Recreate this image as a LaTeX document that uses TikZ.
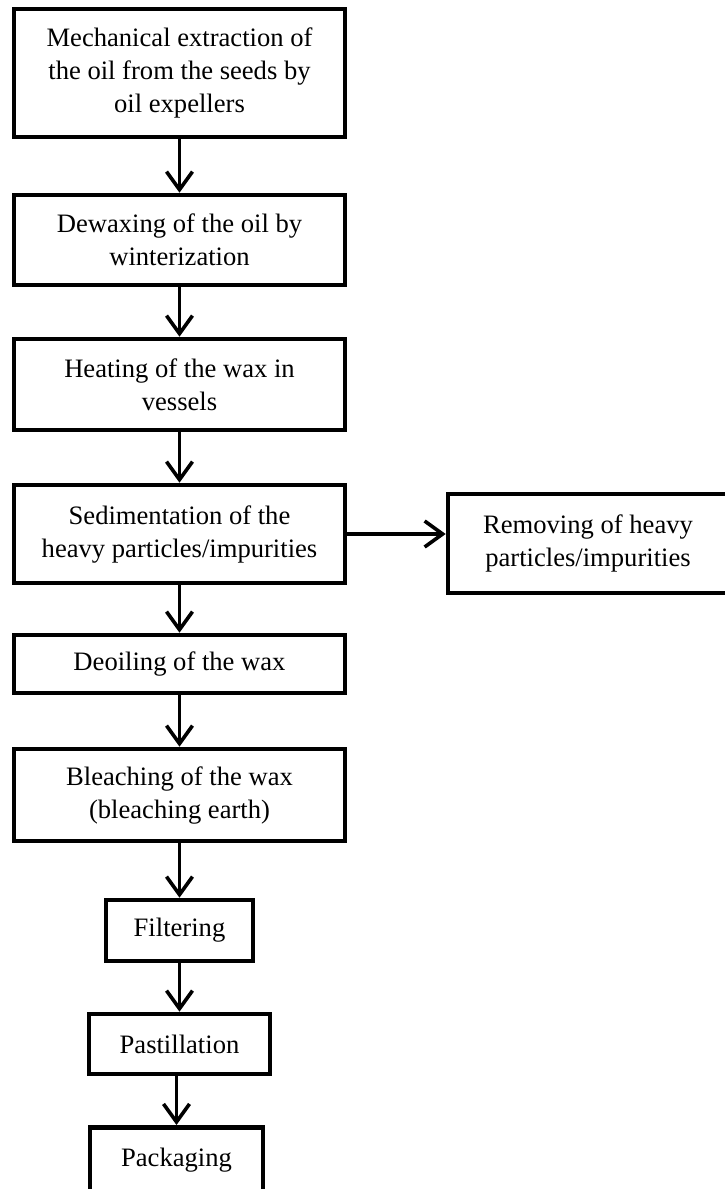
\documentclass[tikz,border=0pt]{standalone}
\usepackage{fontspec}
\setmainfont{Liberation Serif}
\usetikzlibrary{arrows.meta}

\tikzset{
  stepbox/.style={draw, line width=2.3pt, align=center, inner sep=2pt, font=\fontsize{13.3}{16.5}\selectfont},
  flowarrow/.style={line width=1.8pt, -{Straight Barb[length=9pt,width=13pt]}}
}

\begin{document}
\begin{tikzpicture}[x=0.5pt,y=-0.5pt]
        \useasboundingbox (0,0) rectangle (724,1189);
        \node[stepbox, minimum width=165.5pt, minimum height=64pt] (extract) at (179.5,73) {Mechanical extraction of\\the oil from the seeds by\\oil expellers};
        \node[stepbox, minimum width=165.5pt, minimum height=45pt] (dewax) at (179.5,240) {Dewaxing of the oil by\\winterization};
        \node[stepbox, minimum width=165.5pt, minimum height=45.5pt] (heat) at (179.5,384.5) {Heating of the wax in\\vessels};
        \node[stepbox, minimum width=165.5pt, minimum height=49pt] (sediment) at (179.5,534) {Sedimentation of the\\heavy particles/impurities};
        \node[stepbox, minimum width=140pt, minimum height=49.5pt] (remove) at (588,543.5) {Removing of heavy\\particles/impurities};
        \node[stepbox, minimum width=165.5pt, minimum height=29pt] (deoil) at (179.5,664) {Deoiling of the wax};
        \node[stepbox, minimum width=165.5pt, minimum height=46pt] (bleach) at (179.5,795) {Bleaching of the wax\\(bleaching earth)};
        \node[stepbox, minimum width=73.5pt, minimum height=30.5pt] (filter) at (179.5,930.5) {Filtering};
        \node[stepbox, minimum width=90.5pt, minimum height=30pt] (pastil) at (179.5,1044) {Pastillation};
        \node[stepbox, minimum width=86.5pt, inner ysep=0pt, text height=19.5pt, text depth=25pt, anchor=north] (pack) at (176.5,1125) {Packaging};
        \draw[flowarrow] (extract) -- (dewax);
        \draw[flowarrow] (dewax) -- (heat);
        \draw[flowarrow] (heat) -- (sediment);
        \draw[flowarrow] (sediment.east) -- (sediment.east -| remove.west);
        \draw[flowarrow] (sediment) -- (deoil);
        \draw[flowarrow] (deoil) -- (bleach);
        \draw[flowarrow] (bleach) -- (filter);
        \draw[flowarrow] (filter) -- (pastil);
        \draw[flowarrow] (pack.north |- pastil.south) -- (pack.north);
    \end{tikzpicture}
\end{document}
